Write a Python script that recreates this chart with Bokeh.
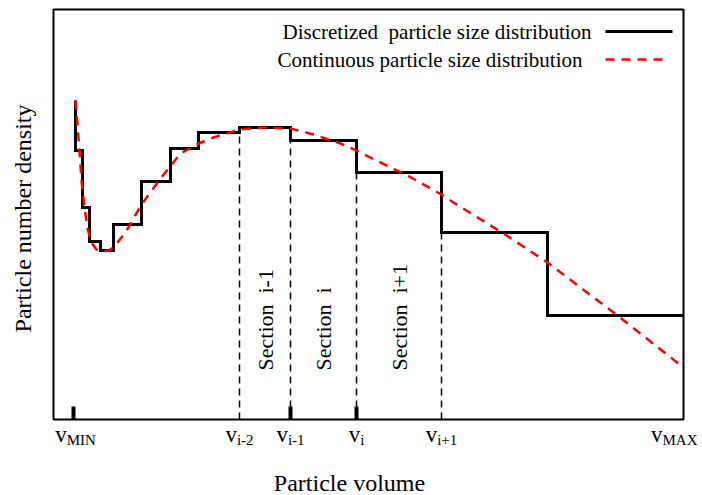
import math
from bokeh.plotting import figure
from bokeh.models import Range1d, Label
from bokeh.embed import file_html
from bokeh.resources import INLINE

SERIF = "Liberation Serif"
NB = "\u00a0"

# ---- data (arbitrary volume / density units) ----
step_edges = [22, 29, 36, 47, 60, 88, 117, 145, 186, 237, 303, 388, 494, 630]
step_levels = [269, 212, 178, 169, 195, 238, 271, 287, 292, 279, 247, 187, 104]
step_peak = 319

cont_x = [22, 24, 26, 28, 31, 34, 38, 43, 49, 55, 60, 72, 88, 107, 127, 145, 160,
          186, 210, 237, 260, 287, 303, 327, 354, 388, 400, 450, 494, 564, 630]
cont_y = [319, 294, 269, 239, 212, 191, 177, 170, 168, 169, 172, 187, 215, 241, 266,
          276, 282, 290, 292, 291, 285, 276, 269, 257, 244, 225, 217, 186, 157, 104, 52]

section_bounds = [186, 237, 303, 388]          # v_{i-2}, v_{i-1}, v_i, v_{i+1}
section_names = ["Section" + NB * 2 + "i-1", "Section" + NB * 2 + "i", "Section" + NB * 2 + "i+1"]
tick_marks = [20, 237, 303]                      # v_MIN, v_{i-1}, v_i
tick_pos = [22, 186, 237, 303, 388, 630]
tick_sub = ["MIN", "i-2", "i-1", "i", "i+1", "MAX"]

X_MAX, Y_MAX = 630, 410
# plot area box is [0, X_MAX] x [0, Y_MAX]; canvas margins in the same units
p = figure(width=702, height=495, output_backend="svg", toolbar_location=None,
           x_range=Range1d(-53, X_MAX + 19), y_range=Range1d(-76, Y_MAX + 9),
           min_border=0)
p.axis.visible = False
p.grid.visible = False
p.outline_line_color = None
p.background_fill_color = "white"
p.border_fill_color = "white"

# frame box
p.quad(left=[0], right=[X_MAX], bottom=[0], top=[Y_MAX], fill_color=None,
       line_color="black", line_width=2)

# dashed section boundaries
tops = []
for b in section_bounds:
    k = step_edges.index(b)
    tops.append(min(step_levels[k - 1], step_levels[k]))
p.segment(x0=section_bounds, y0=[0] * len(section_bounds), x1=section_bounds, y1=tops,
          line_color="black", line_width=1.5, line_dash="7 5")

# step (discretized) distribution
sx, sy = [step_edges[0]], [step_peak]
for i, lv in enumerate(step_levels):
    sx += [step_edges[i], step_edges[i + 1]]
    sy += [lv, lv]
p.line(sx, sy, line_color="black", line_width=3, line_join="miter")

# continuous distribution
p.line(cont_x, cont_y, line_color="#ff0000", line_width=2.5, line_dash="9 7")

# bold tick marks on the x axis
p.segment(x0=tick_marks, y0=[0] * 3, x1=tick_marks, y1=[13] * 3,
          line_color="black", line_width=4)

# section labels (rotated)
for i, name in enumerate(section_names):
    xm = (section_bounds[i] + section_bounds[i + 1]) / 2
    p.add_layout(Label(x=xm, y=49, text=name, angle=math.pi / 2, text_align="left",
                       text_baseline="middle", text_font=SERIF, text_font_size="22px",
                       text_color="black"))

# tick labels v_sub
cw = {"M": .889, "I": .333, "N": .722, "A": .722, "X": .722, "i": .278,
      "-": .333, "+": .564, "1": .5, "2": .5}
V_SIZE, S_SIZE = 23, 15
for xpos, sub in zip(tick_pos, tick_sub):
    w_sub = sum(cw[c] for c in sub) * S_SIZE
    w_v = 0.5 * V_SIZE
    off = (w_v - w_sub) / 2
    if sub == "MAX":
        off = -21  # label ends just inside the right edge of the canvas
    p.add_layout(Label(x=xpos, y=-15, x_offset=off, text="v", text_align="right",
                       text_baseline="alphabetic", text_font=SERIF,
                       text_font_size=f"{V_SIZE}px", text_color="black"))
    p.add_layout(Label(x=xpos, y=-20, x_offset=off, text=sub, text_align="left",
                       text_baseline="alphabetic", text_font=SERIF,
                       text_font_size=f"{S_SIZE}px", text_color="black"))

# axis titles
p.add_layout(Label(x=X_MAX / 2 - 19, y=-63, text="Particle volume", text_align="center",
                   text_baseline="alphabetic", text_font=SERIF, text_font_size="24px",
                   text_color="black"))
p.add_layout(Label(x=-31, y=Y_MAX / 2 - 4, text="Particle number density", angle=math.pi / 2,
                   text_align="center", text_baseline="middle", text_font=SERIF,
                   text_font_size="24px", text_color="black"))

# legend (text left, sample line right)
p.add_layout(Label(x=229, y=388, text="Discretized" + NB * 2 + "particle size distribution",
                   text_align="left", text_baseline="middle", text_font=SERIF,
                   text_font_size="21px", text_color="black"))
p.add_layout(Label(x=224, y=360, text="Continuous particle size distribution",
                   text_align="left", text_baseline="middle", text_font=SERIF,
                   text_font_size="21px", text_color="black"))
p.segment(x0=[552], y0=[388], x1=[619], y1=[388], line_color="black", line_width=3)
p.segment(x0=[552], y0=[360], x1=[616], y1=[360], line_color="#ff0000",
          line_width=2.5, line_dash="9 7")

open("out.html", "w").write(file_html(p, INLINE))
